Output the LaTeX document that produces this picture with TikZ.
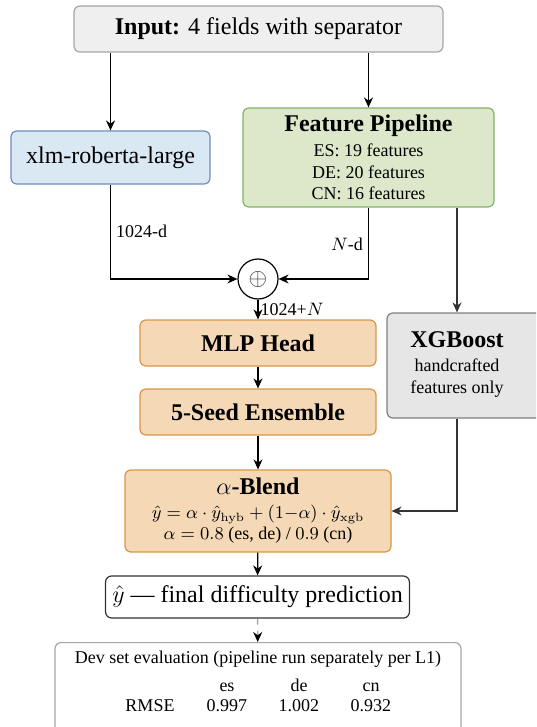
\documentclass[tikz,border=0pt]{standalone}
\usepackage[no-math]{fontspec}
\setmainfont{Liberation Serif}
\usepackage{array}
\usetikzlibrary{arrows.meta, positioning, calc}
\definecolor{cgreyfill}{HTML}{EFEFEF}
\definecolor{cgreyline}{HTML}{A6A6A6}
\definecolor{cbluefill}{HTML}{DAE8F3}
\definecolor{cblueline}{HTML}{6C8EBF}
\definecolor{cgreenfill}{HTML}{DDE8CB}
\definecolor{cgreenline}{HTML}{82B366}
\definecolor{corangefill}{HTML}{F5D9B6}
\definecolor{corangeline}{HTML}{D6964A}
\definecolor{cxgbfill}{HTML}{E6E6E6}
\definecolor{cxgbline}{HTML}{7F7F7F}
\definecolor{cdark}{HTML}{333333}
\tikzset{
  every picture/.style={line width=0.6pt},
  box/.style={draw=#1line, fill=#1fill, rounded corners=3pt, align=center, inner sep=2pt},
  box/.default=cgrey,
  arrow/.style={-{Stealth[length=5pt, width=4.5pt]}, line width=0.65pt},
  lbl/.style={font=\small, inner sep=2.5pt},
}

\begin{document}
\begin{tikzpicture}[x=0.5pt, y=-0.5pt]
  \useasboundingbox (0,0) rectangle (536,727);
  \clip (0,0) rectangle (536,727);
  % boxes
  \node[box, minimum width=184.5pt, minimum height=23pt, font=\large] (inp) at (258.5,29) {\textbf{Input:} 4 fields with separator};
  \node[box=cblue, minimum width=99.5pt, minimum height=26.5pt, font=\large] (xlm) at (110.5,157.5) {xlm-roberta-large};
  \node[box=cgreen, minimum width=125.5pt, minimum height=49.5pt, font=\small] (feat) at (368.5,157.5)
    {{\large\bfseries Feature Pipeline}\\[1.5pt] ES: 19 features\\[-0.2pt] DE: 20 features\\[-0.2pt] CN: 16 features};
  \node[draw, circle, minimum size=20pt, inner sep=0pt, font=\large] (plus) at (258,279) {\color{cdark}$\oplus$};
  \node[box=corange, minimum width=118pt, minimum height=23pt, font=\large\bfseries] (mlp) at (258,343) {MLP Head};
  \node[box=corange, minimum width=118pt, minimum height=23pt, font=\large\bfseries] (ens) at (258,412) {5-Seed Ensemble};
  \node[box=cxgb, minimum width=79pt, minimum height=52.5pt, font=\small] (xgb) at (466,365.5)
    {\hspace*{-9pt}\begin{tabular}{@{}c@{}}{\large\bfseries XGBoost}\\[1pt] handcrafted\\[0pt] features only\end{tabular}};
  \coordinate (xgbc) at (457,365.5);
  \node[box=corange, minimum width=133pt, minimum height=41pt, font=\small] (blend) at (258,511)
    {{\large$\alpha$\textbf{-Blend}}\\[1pt]
     $\hat{y} = \alpha\cdot\hat{y}_{\mathrm{hyb}} + (1{-}\alpha)\cdot\hat{y}_{\mathrm{xgb}}$\\[-0.5pt]
     $\alpha = 0.8$ (es, de) / $0.9$ (cn)};
  \node[draw=cdark, fill=white, rounded corners=3pt, minimum width=145.5pt, minimum height=21pt, font=\large] (final) at (257.5,597)
    {$\hat{y}$ --- final difficulty prediction};
  \node[draw=cgreyline, fill=white, rounded corners=3pt, minimum width=203pt, minimum height=50pt, anchor=north] (eval) at (258,642) {};
  \node[font=\small, anchor=base] (evtitle) at (258,663) {Dev set evaluation (pipeline run separately per L1)};
  \node[font=\small, anchor=base, inner sep=0pt] (evtab) at (258,691)
    {\renewcommand{\arraystretch}{0.95}%
     \begin{tabular}[t]{@{}>{\centering}p{41pt}@{}>{\centering}p{36pt}@{}>{\centering}p{36pt}@{}>{\centering\arraybackslash}p{36pt}@{}}
       & es & de & cn\\
       RMSE & 0.997 & 1.002 & 0.932
     \end{tabular}};
  % connectors
  \draw[arrow] (inp.south -| xlm.north) -- (xlm.north);
  \draw[arrow] (inp.south -| feat.north) -- (feat.north);
  \draw[arrow] (xlm.south) |- node[lbl, pos=0.25, right] {1024-d} (plus.west);
  \draw[arrow] (feat.south) |- node[lbl, pos=0.26, left] {$N$-d} (plus.east);
  \draw[arrow, cdark] (feat.south -| xgbc) -- (xgbc |- xgb.north);
  \draw[arrow] (plus.south) -- node[lbl, right, inner sep=1pt] {1024+$N$} (mlp.north);
  \draw[arrow] (mlp) -- (ens);
  \draw[arrow] (ens) -- (blend);
  \draw[arrow, cdark] (xgbc |- xgb.south) |- (blend.east);
  \draw[arrow] (blend) -- (final);
  \draw[arrow, dashed, cgreyline, -{Stealth[length=5pt, width=4.5pt, black]}] (final) -- (eval);
\end{tikzpicture}
\end{document}
